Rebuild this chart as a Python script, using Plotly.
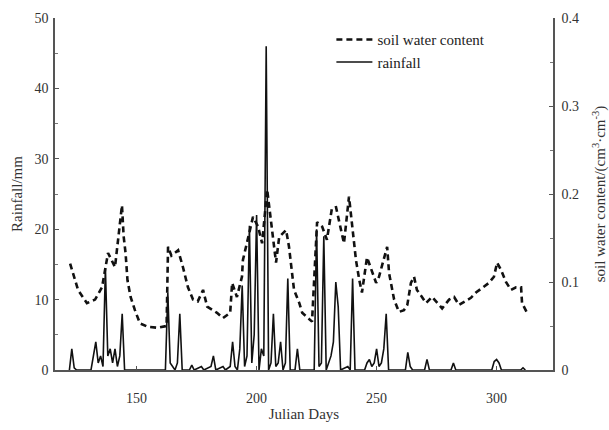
import plotly.graph_objects as go

# Daily rainfall (mm) by Julian day
rain_day = [122, 123, 124, 125, 131, 132, 133, 134, 135, 136, 137, 138, 139, 140, 141, 142, 143, 144, 145,
            162, 163, 164, 165, 166, 167, 168, 169, 172, 173, 174, 177, 178, 181, 182, 183, 186, 187,
            189, 190, 191, 192, 193, 194, 195, 196, 197, 198, 199, 200, 201, 202, 203, 204, 205, 206,
            207, 208, 209, 210, 211, 212, 213, 214, 216, 217, 218, 224, 225, 226, 227, 228, 229, 231,
            232, 233, 234, 235, 237, 238, 239, 240, 241, 245, 246, 247, 248, 249, 250, 251, 252, 253,
            254, 255, 262, 263, 264, 265, 270, 271, 272, 281, 282, 283, 298, 299, 300, 301, 302, 310,
            311, 312]
rain_mm = [0, 3, 0.3, 0, 0, 2, 4, 1, 2, 0.5, 14.5, 2, 3, 1, 3, 0.5, 2, 8, 0,
           0, 11, 1, 0.5, 0, 1, 8, 0, 0, 0.7, 0, 0.5, 0, 0.5, 2, 0, 0.5, 0,
           0.5, 4, 0.5, 0, 3, 12, 0.5, 2, 20.5, 1, 5, 22, 0, 3, 2, 46, 0, 1,
           8, 0.5, 1, 4, 0, 1, 13, 0, 0, 3, 0, 0, 20, 0.5, 1, 19, 0, 2,
           4, 12.5, 9, 0, 0.3, 0.5, 0, 13, 0, 0, 1, 1.5, 0.5, 1, 3, 0.5, 1, 3,
           8, 0, 0, 2.5, 0.5, 0, 0, 1.5, 0, 0, 1, 0, 0, 1.2, 1.5, 1, 0, 0,
           0.3, 0]

# Soil water content (cm3/cm3) by Julian day
sw_day = [122.3, 124.3, 125.6, 129.3, 132.7, 135.6, 138.1, 141.0, 143.9, 144.6, 145.4, 146.2, 147.5,
          149.3, 151.4, 154.8, 158.9, 162.5, 163.1, 164.5, 167.3, 169.3, 171.4, 173.5, 175.5, 177.7,
          179.4, 183.5, 186.0, 189.0, 189.8, 191.8, 193.9, 194.3, 196.4, 198.5, 200.6, 202.3, 204.4,
          206.5, 208.1, 209.4, 212.3, 213.5, 215.6, 217.8, 219.0, 223.1, 225.2, 227.3, 229.3, 231.4,
          233.1, 234.3, 236.4, 238.5, 239.4, 240.6, 241.4, 242.8, 243.9, 246.0, 247.7, 249.8, 251.0,
          253.1, 254.4, 255.2, 257.3, 259.3, 261.4, 262.8, 264.3, 265.6, 266.8, 268.9, 270.6, 273.1,
          275.2, 277.3, 280.2, 282.3, 284.3, 286.4, 289.3, 291.4, 293.9, 296.8, 298.9, 300.2, 301.8,
          303.9, 306.0, 308.1, 310.2, 310.6, 312.7]
sw_val = [0.121, 0.104, 0.091, 0.076, 0.080, 0.094, 0.133, 0.117, 0.187, 0.152, 0.133, 0.102, 0.083,
          0.068, 0.053, 0.049, 0.048, 0.050, 0.140, 0.130, 0.136, 0.117, 0.094, 0.080, 0.078, 0.091,
          0.072, 0.065, 0.059, 0.065, 0.099, 0.083, 0.106, 0.125, 0.148, 0.174, 0.163, 0.144, 0.205,
          0.156, 0.122, 0.151, 0.159, 0.140, 0.091, 0.076, 0.065, 0.055, 0.168, 0.163, 0.148, 0.184,
          0.185, 0.170, 0.144, 0.197, 0.174, 0.144, 0.125, 0.102, 0.088, 0.128, 0.114, 0.099, 0.106,
          0.128, 0.140, 0.110, 0.080, 0.066, 0.068, 0.074, 0.099, 0.106, 0.091, 0.083, 0.076, 0.083,
          0.076, 0.070, 0.080, 0.083, 0.074, 0.077, 0.082, 0.088, 0.093, 0.099, 0.106, 0.122, 0.114,
          0.100, 0.091, 0.094, 0.094, 0.076, 0.065]

x_ticks = [150, 200, 250, 300]
rain_ticks = [0, 10, 20, 30, 40, 50]
sw_ticks = [0, 0.1, 0.2, 0.3, 0.4]
sw_tick_text = ["0", "0.1", "0.2", "0.3", "0.4"]

SERIF = "Liberation Serif, Times New Roman, serif"

fig = go.Figure()
fig.add_trace(go.Scatter(
    x=sw_day, y=sw_val, name="soil water content", yaxis="y2", mode="lines",
    line=dict(color="#111111", width=2.6, dash="6px,4px"),
))
fig.add_trace(go.Scatter(
    x=rain_day, y=rain_mm, name="rainfall", mode="lines",
    line=dict(color="#111111", width=1.6),
))

axis_common = dict(
    showgrid=False, zeroline=False, showline=True, linecolor="#555555", linewidth=1.5,
    ticks="inside", ticklen=4, tickcolor="#555555", automargin=False,
    tickfont=dict(family=SERIF, size=14, color="#333333"),
)

fig.update_layout(
    width=609, height=430,
    margin=dict(l=55, r=56, t=18, b=60),
    plot_bgcolor="white", paper_bgcolor="white",
    showlegend=True,
    legend=dict(
        x=0.555, y=0.985, xanchor="left", yanchor="top",
        bgcolor="rgba(0,0,0,0)", font=dict(family=SERIF, size=15, color="#222222"),
        tracegroupgap=0, itemwidth=36,
    ),
    xaxis=dict(
        range=[116, 323.5], tickvals=x_ticks, ticklabelstandoff=14,
        title=dict(text="Julian Days", font=dict(family=SERIF, size=15, color="#333333"), standoff=4),
        **axis_common,
    ),
    yaxis=dict(
        range=[0, 50], tickvals=rain_ticks, ticklabelstandoff=2,
        minor=dict(ticks="inside", ticklen=3, dtick=5, tickcolor="#777777"),
        title=dict(text="Rainfall/mm", font=dict(family=SERIF, size=15, color="#333333"), standoff=8),
        **axis_common,
    ),
    yaxis2=dict(
        range=[0, 0.4], tickvals=sw_ticks, ticktext=sw_tick_text, overlaying="y", side="right",
        ticklabelstandoff=4,
        minor=dict(ticks="inside", ticklen=3, dtick=0.05, tickcolor="#777777"),
        title=dict(text="soil water content/(cm<sup>3</sup>·cm<sup>-3</sup>)",
                   font=dict(family=SERIF, size=15, color="#333333"), standoff=20),
        **axis_common,
    ),
)

fig.write_html("out.html")
